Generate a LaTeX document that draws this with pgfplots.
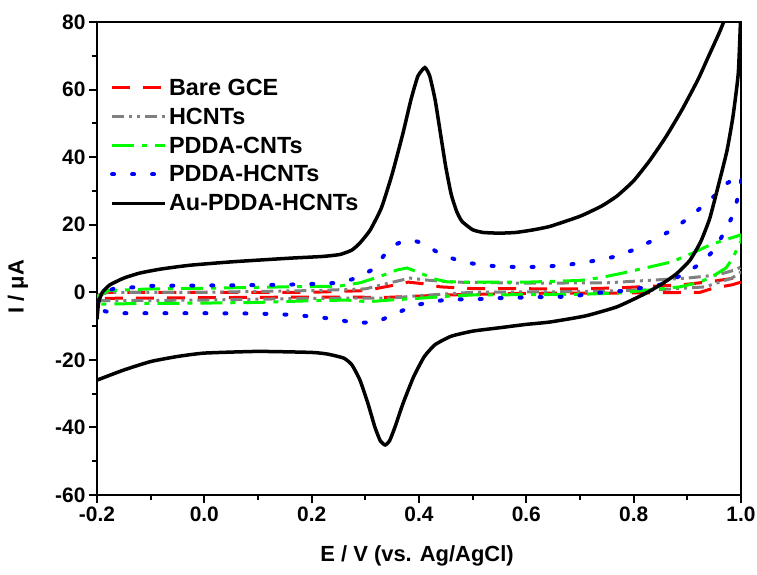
\documentclass[border=0pt]{standalone}
\usepackage{pgfplots}
\pgfplotsset{compat=1.18}
\usepackage{fontspec}
\setmainfont{Liberation Sans}
\definecolor{cred}{RGB}{255,0,0}
\definecolor{cgray}{RGB}{128,128,128}
\definecolor{cgreen}{RGB}{0,250,0}
\definecolor{cblue}{RGB}{0,0,255}
\begin{document}
\begin{tikzpicture}
\begin{axis}[
  scale only axis,
  width=644bp, height=473bp,
  xmin=-0.2, xmax=1.0, ymin=-60, ymax=80,
  xtick={-0.2,0,0.2,0.4,0.6,0.8,1.0},
  xticklabels={-0.2,0.0,0.2,0.4,0.6,0.8,1.0},
  ytick={-60,-40,-20,0,20,40,60,80},
  yticklabels={-60,-40,-20,0,20,40,60,80},
  minor x tick num=1, minor y tick num=1,
  xtick pos=bottom, ytick pos=left,
  tick align=outside,
  major tick length=8bp, minor tick length=5bp,
  every tick/.style={black, line width=2bp},
  axis line style={line width=2.5bp},
  tick label style={font=\fontsize{21}{24}\selectfont\bfseries},
  label style={font=\fontsize{22}{24}\selectfont\bfseries},
  xlabel={E / V (vs. Ag/AgCl)},
  ylabel={I / μA},
  every axis x label/.append style={at={(axis description cs:0.497,-0.129)}, anchor=center},
  every axis y label/.append style={at={(axis description cs:-0.1227,0.44)}, anchor=center},
  legend style={draw=none, fill=none, at={(rel axis cs:0.02,0.884)}, anchor=north west,
    font=\fontsize{23.5}{24}\selectfont\bfseries, row sep=7bp, inner sep=0pt},
  legend cell align=left,
  legend image code/.code={\draw[#1] (0bp,0bp) -- (53bp,0bp);},
  clip=true,
]
\addplot[cred, line width=3bp, dash pattern=on 18bp off 13bp] coordinates {
(-0.2,-1) (-0.18,0) (0.0,0) (0.2,0) (0.3,0.5) (0.35,2) (0.38,3) (0.41,2.5) (0.44,1.6) (0.5,1.1) (0.7,1) (0.77,1.3) (0.89,2.2) (0.95,3.3) (1.0,4.5)
(1.0,3) (0.983,2.2) (0.95,1.3) (0.924,0) (0.8,-0.2) (0.6,-0.3) (0.45,-0.8) (0.34,-1.5) (0.2,-1.4) (0.0,-1.6) (-0.2,-1.8)
};
\addlegendentry{Bare GCE}
\addplot[cgray, line width=3bp, dash pattern=on 12bp off 5bp on 3bp off 5bp on 3bp off 5bp] coordinates {
(-0.2,-1) (-0.18,0) (0.0,0) (0.2,0.5) (0.3,1) (0.346,2.8) (0.383,4.2) (0.415,3.6) (0.467,3) (0.6,2.7) (0.75,2.8) (0.9,4.2) (0.955,5.1) (0.989,6.6) (1.0,7.5)
(1.0,6) (0.983,4.2) (0.933,1.6) (0.85,0.8) (0.7,0.2) (0.5,0) (0.4,-1) (0.35,-1.7) (0.2,-1.8) (0.0,-2.3) (-0.2,-2.5)
};
\addlegendentry{HCNTs}
\addplot[cgreen, line width=3bp, dash pattern=on 22bp off 8bp on 5bp off 8bp] coordinates {
(-0.2,-1.5) (-0.18,0.5) (-0.1,1) (0.0,1.2) (0.15,1.6) (0.25,1.8) (0.29,2.8) (0.324,4.5) (0.359,6.6) (0.378,7.2) (0.402,5.7) (0.43,3.9) (0.452,3.1) (0.5,3) (0.6,3) (0.7,3.5) (0.737,4.3) (0.78,5.7) (0.83,7.5) (0.871,9) (0.91,11.6) (0.942,14) (0.97,15.5) (1.0,17)
(1.0,15) (0.994,13.4) (0.985,10.1) (0.972,7.2) (0.951,5.1) (0.924,3) (0.886,1.6) (0.83,0.7) (0.774,-0.2) (0.7,-0.6) (0.6,-0.7) (0.5,-0.8) (0.45,-1.2) (0.407,-1.7) (0.346,-2.3) (0.305,-2.8) (0.266,-2.3) (0.2,-2.5) (0.1,-3) (0.0,-3.2) (-0.1,-3.3) (-0.2,-3.5)
};
\addlegendentry{PDDA-CNTs}
\addplot[cblue, line width=4bp, line cap=round, dash pattern=on 2bp off 18bp] coordinates {
(-0.2,-3) (-0.185,0) (-0.17,1) (-0.1,1.9) (0.0,2) (0.14,2.2) (0.21,2.5) (0.25,2.8) (0.284,4.2) (0.312,6.6) (0.337,11.3) (0.355,14) (0.37,15.2) (0.39,15.3) (0.406,14.6) (0.437,11.6) (0.471,9.5) (0.5,8.5) (0.536,7.8) (0.575,7.5) (0.616,7.5) (0.653,7.8) (0.69,8.4) (0.726,9.3) (0.761,10.4) (0.799,12.5) (0.83,14.9) (0.864,17.8) (0.892,20.8) (0.922,24.6) (0.95,28.5) (0.974,32.3) (1.0,34.5)
(1.0,31) (0.994,28) (0.985,22.8) (0.968,17.5) (0.95,12.5) (0.924,8.4) (0.89,5.1) (0.849,2.2) (0.815,1.3) (0.761,0) (0.724,-0.2) (0.69,-1.2) (0.65,-1.4) (0.61,-1.4) (0.573,-1.7) (0.536,-1.7) (0.5,-2.2) (0.461,-2) (0.424,-2.8) (0.389,-4) (0.355,-6.4) (0.321,-8.8) (0.28,-9.1) (0.243,-7.9) (0.206,-7.3) (0.169,-6.7) (0.1,-6.3) (0.0,-6.2) (-0.1,-6.2) (-0.17,-6.2) (-0.2,-5)
};
\addlegendentry{PDDA-HCNTs}
\addplot[black, line width=3.5bp, smooth, tension=0.3] coordinates {
(-0.2,-8) (-0.197,-3) (-0.19,0) (-0.176,2.2) (-0.15,4.2) (-0.12,5.7) (-0.08,6.9) (-0.027,8) (0.05,9) (0.16,10.1) (0.22,10.6) (0.253,11.2) (0.275,12.5) (0.29,14.6) (0.309,18.4) (0.33,25) (0.35,35) (0.37,47) (0.385,57) (0.398,64) (0.411,66.5) (0.42,64) (0.43,57) (0.44,47) (0.45,37) (0.46,29) (0.47,24) (0.48,21) (0.5,18.5) (0.52,17.7) (0.55,17.5) (0.58,17.7) (0.61,18.4) (0.644,19.5) (0.7,22.5) (0.74,25.5) (0.769,28.5) (0.8,33) (0.83,39) (0.86,46) (0.89,54) (0.92,63) (0.94,70) (0.96,77) (0.975,83) (0.99,90)
(1.0,95) (1.0,85) (0.995,65) (0.985,52) (0.974,42) (0.96,33) (0.942,22) (0.925,15) (0.905,9.5) (0.88,5.5) (0.855,2.7) (0.82,-0.5) (0.769,-4.3) (0.71,-7) (0.644,-8.8) (0.6,-9.5) (0.55,-10.5) (0.5,-11.5) (0.46,-13) (0.43,-15.5) (0.41,-19) (0.39,-25) (0.37,-33) (0.355,-40) (0.345,-44) (0.337,-45.2) (0.328,-44) (0.318,-40) (0.305,-33) (0.29,-26) (0.275,-21.5) (0.26,-19.5) (0.23,-18.3) (0.2,-17.8) (0.1,-17.5) (0.0,-18) (-0.05,-19) (-0.1,-20.5) (-0.15,-23) (-0.2,-26)
};
\addlegendentry{Au-PDDA-HCNTs}
\coordinate (bl) at (rel axis cs:0,0);
\coordinate (tr) at (rel axis cs:1,1);
\end{axis}
\path (tr) ++(16bp,22bp) coordinate (tr2);
\path (bl) ++(-97bp,-80bp) coordinate (bl2);
\pgfresetboundingbox
\path (bl2) rectangle (tr2);
\end{tikzpicture}
\end{document}
